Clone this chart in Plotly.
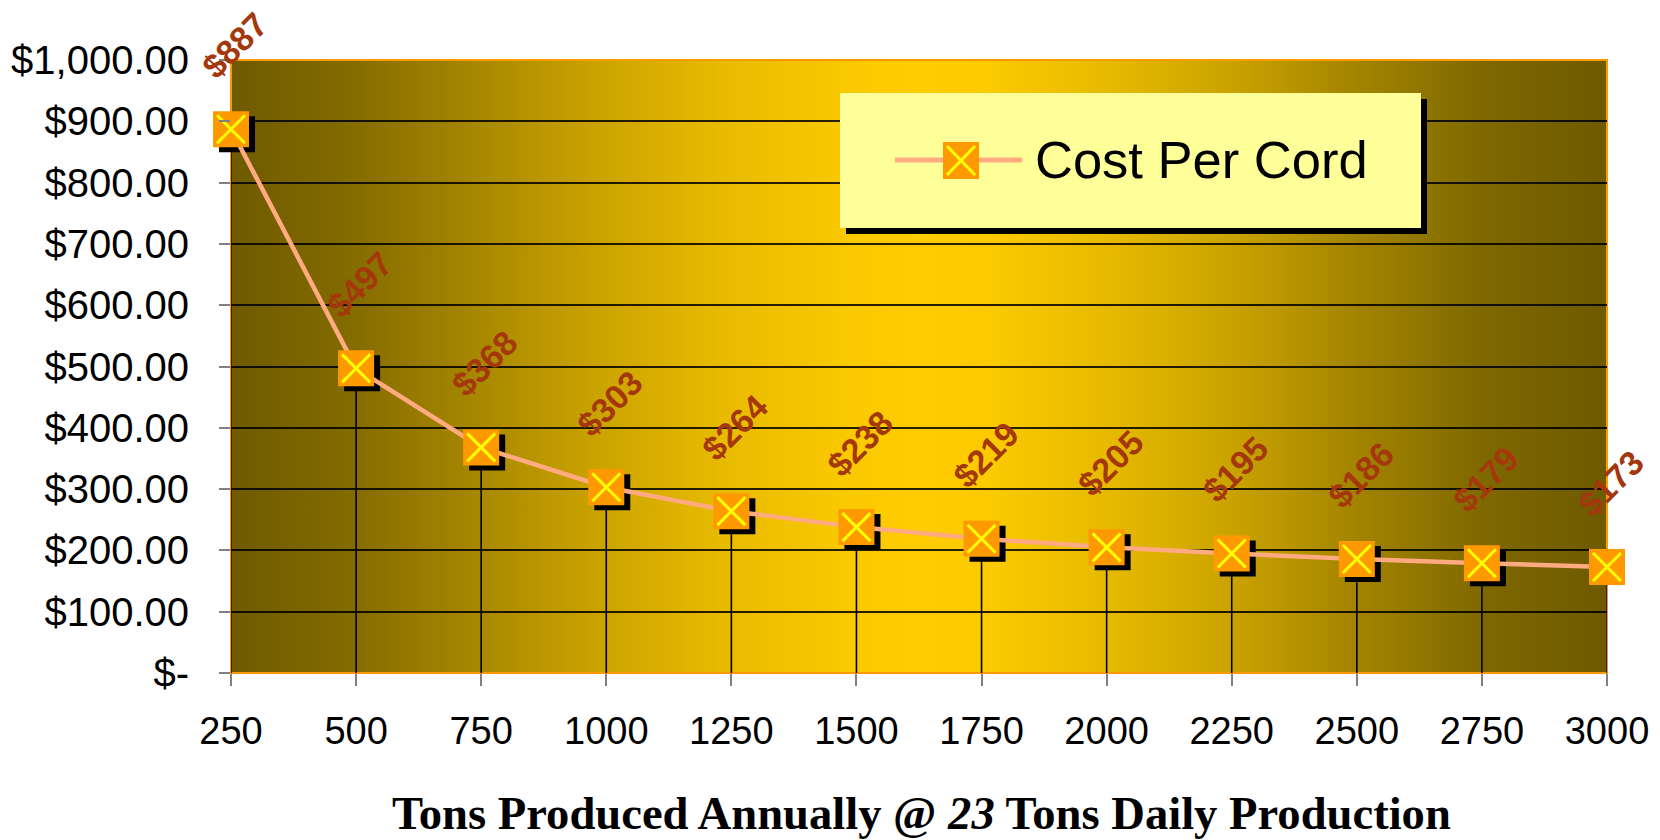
import base64
import plotly.graph_objects as go

# ---------------- data ----------------
tons = [250, 500, 750, 1000, 1250, 1500, 1750, 2000, 2250, 2500, 2750, 3000]
cost_per_cord = [887, 497, 368, 303, 264, 238, 219, 205, 195, 186, 179, 173]
y_tick_values = [0, 100, 200, 300, 400, 500, 600, 700, 800, 900, 1000]
y_tick_labels = ["$-", "$100.00", "$200.00", "$300.00", "$400.00", "$500.00",
                 "$600.00", "$700.00", "$800.00", "$900.00", "$1,000.00"]
series_name = "Cost Per Cord"
x_title = "Tons Produced Annually @ <i>23</i> Tons Daily Production"

# ---------------- geometry (page pixels) ----------------
W, H = 1660, 840
PL, PT, PR, PB = 231, 60, 1607, 673   # plot area in page pixels
PW, PH = PR - PL, PB - PT
L, T = PL, PT
R, B = W - L - PW, H - T - PH
X0, X1 = 250, 3000
Y0, Y1 = 0, 1000
SHADOW_DX, SHADOW_DY = 6, 5  # px
dx_units = SHADOW_DX * (X1 - X0) / PW
dy_units = SHADOW_DY * (Y1 - Y0) / PH


def px_x(x):
    return (x - PL) / PW


def px_y(y):
    return 1 - (y - PT) / PH


# gradient background as svg
DARK, BRIGHT = (110, 90, 0), (255, 204, 0)
profile = [(0.0, 0.0), (0.09, 0.16), (0.18, 0.40), (0.27, 0.65), (0.36, 0.85), (0.45, 0.97),
           (0.50, 1.0), (0.55, 0.98), (0.64, 0.83), (0.73, 0.63), (0.82, 0.36), (0.91, 0.12), (1.0, 0.0)]


def mix(f):
    return "#%02X%02X%02X" % tuple(round(d + (b - d) * f) for d, b in zip(DARK, BRIGHT))


stop_xml = "".join(f'<stop offset="{o}" stop-color="{mix(f)}"/>' for o, f in profile)
svg = ('<svg xmlns="http://www.w3.org/2000/svg" width="200" height="100" preserveAspectRatio="none">'
       '<defs><linearGradient id="g" x1="0" y1="0" x2="1" y2="0">' + stop_xml +
       '</linearGradient></defs><rect width="200" height="100" fill="url(#g)"/></svg>')
svg_uri = "data:image/svg+xml;base64," + base64.b64encode(svg.encode()).decode()

fig = go.Figure()

# shadow of markers (on shifted base axes)
fig.add_trace(go.Scatter(
    x=tons, y=cost_per_cord, mode="markers", xaxis="x", yaxis="y",
    marker=dict(symbol="square", size=36, color="black", line=dict(width=0)),
    cliponaxis=False, showlegend=False, hoverinfo="skip"))

# drop lines
fig.add_trace(go.Scatter(
    x=tons, y=cost_per_cord, mode="markers", xaxis="x2", yaxis="y2",
    marker=dict(size=1, color="rgba(0,0,0,0)"),
    error_y=dict(type="data", symmetric=False, array=[0] * len(cost_per_cord),
                 arrayminus=cost_per_cord, width=0, color="black", thickness=1.6),
    showlegend=False, hoverinfo="skip"))

# line + squares
fig.add_trace(go.Scatter(
    x=tons, y=cost_per_cord, mode="lines+markers", xaxis="x2", yaxis="y2",
    name=series_name,
    line=dict(color="#FFAA80", width=4.5),
    marker=dict(symbol="square", size=36, color="#FF9900", line=dict(width=0)),
    cliponaxis=False, showlegend=False))

# yellow x on markers
fig.add_trace(go.Scatter(
    x=tons, y=cost_per_cord, mode="markers", xaxis="x2", yaxis="y2",
    marker=dict(symbol="x-thin", size=28, color="#FFFF00", line=dict(width=3, color="#FFFF00")),
    cliponaxis=False, showlegend=False, hoverinfo="skip"))

# data labels
annotations = []
for xv, yv in zip(tons, cost_per_cord):
    annotations.append(dict(
        x=xv, y=yv, xref="x2", yref="y2", text=f"${yv}", showarrow=False,
        textangle=-45, xshift=4, yshift=84,
        font=dict(family="Arial, Liberation Sans", size=34, color="#A4380C", weight="bold")))

# x title
annotations.append(dict(
    x=px_x(922), y=px_y(813), xref="paper", yref="paper",
    text=x_title, showarrow=False, xanchor="center", yanchor="middle",
    font=dict(family="Liberation Serif, Times New Roman, serif", size=46.6, color="black", weight="bold")))

# legend text
annotations.append(dict(
    x=px_x(1033), y=px_y(159), xref="paper", yref="paper", text=series_name,
    showarrow=False, xanchor="left", yanchor="middle",
    font=dict(family="Arial, Liberation Sans", size=52.5, color="black")))

shapes = [
    # plot border
    dict(type="rect", xref="paper", yref="paper", x0=0, y0=0, x1=1, y1=1,
         line=dict(color="#FF9900", width=2), fillcolor="rgba(0,0,0,0)", layer="between"),
    # legend shadow + box
    dict(type="rect", xref="paper", yref="paper", x0=px_x(846), x1=px_x(1427), y0=px_y(234), y1=px_y(99),
         line=dict(width=0), fillcolor="black", layer="above"),
    dict(type="rect", xref="paper", yref="paper", x0=px_x(840), x1=px_x(1421), y0=px_y(228), y1=px_y(93),
         line=dict(width=0), fillcolor="#FFFF99", layer="above"),
    # legend line
    dict(type="line", xref="paper", yref="paper", x0=px_x(895), x1=px_x(1022), y0=px_y(160), y1=px_y(160),
         line=dict(color="#FFAA80", width=5), layer="above"),
    # legend marker
    dict(type="rect", xref="paper", yref="paper", x0=px_x(943), x1=px_x(979), y0=px_y(179), y1=px_y(142),
         line=dict(width=0), fillcolor="#FF9900", layer="above"),
    dict(type="line", xref="paper", yref="paper", x0=px_x(947), x1=px_x(975), y0=px_y(146), y1=px_y(175),
         line=dict(color="#FFFF00", width=3), layer="above"),
    dict(type="line", xref="paper", yref="paper", x0=px_x(947), x1=px_x(975), y0=px_y(175), y1=px_y(146),
         line=dict(color="#FFFF00", width=3), layer="above"),
]

fig.update_layout(
    width=W, height=H,
    margin=dict(l=L, r=R, t=T, b=B, pad=0, autoexpand=False),
    paper_bgcolor="white", plot_bgcolor="rgba(0,0,0,0)",
    showlegend=False,
    xaxis=dict(range=[X0 - dx_units, X1 - dx_units], visible=False, fixedrange=True, automargin=False),
    yaxis=dict(range=[Y0 + dy_units, Y1 + dy_units], visible=False, fixedrange=True, automargin=False),
    xaxis2=dict(range=[X0, X1], overlaying="x", anchor="y2", side="bottom", automargin=False,
                tickmode="array", tickvals=tons, ticktext=[str(t) for t in tons],
                ticks="outside", ticklen=12, tickwidth=2, tickcolor="#808080",
                showgrid=False, zeroline=False, showline=False,
                ticklabelstandoff=12,
                tickfont=dict(family="Arial, Liberation Sans", size=38, color="black")),
    yaxis2=dict(range=[Y0, Y1], overlaying="y", anchor="x2", side="left", automargin=False,
                tickmode="array", tickvals=y_tick_values, ticktext=y_tick_labels,
                ticks="outside", ticklen=11, tickwidth=2, tickcolor="#808080",
                showgrid=True, gridcolor="rgba(0,0,0,0.85)", gridwidth=1.5,
                zeroline=False, showline=False,
                ticklabelstandoff=22,
                tickfont=dict(family="Arial, Liberation Sans", size=40, color="black")),
    images=[dict(source=svg_uri, xref="paper", yref="paper", x=0, y=1, sizex=1, sizey=1,
                 xanchor="left", yanchor="top", sizing="stretch", layer="below")],
    annotations=annotations,
    shapes=shapes,
)

fig.write_html(
    "out.html",
    config={"displayModeBar": False},
    post_script="document.body.style.margin='0';document.body.style.overflow='hidden';",
)
